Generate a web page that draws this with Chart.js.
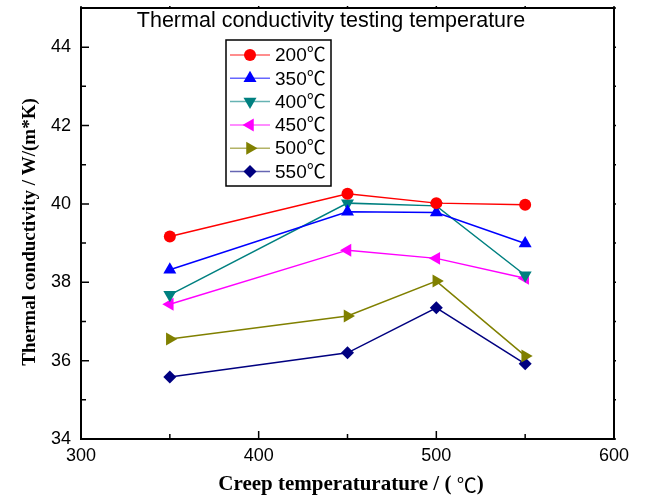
<!DOCTYPE html>
<html>
<head>
<meta charset="utf-8">
<script src="https://cdn.jsdelivr.net/npm/chart.js@4.4.1/dist/chart.umd.min.js"></script>
<style>
  html, body { margin: 0; padding: 0; background: #fff; }
  canvas { display: block; }
</style>
</head>
<body>
<canvas id="myChart" width="649" height="499"></canvas>
<script>
// creep temperature on the x axis
const creepTemps = [350, 450, 500, 550];
// one series per testing temperature
const seriesNames = ['200℃', '350℃', '400℃', '450℃', '500℃', '550℃'];
const s200 = [39.17, 40.26, 40.02, 39.98];
const s350 = [38.32, 39.80, 39.78, 38.99];
const s400 = [37.68, 40.02, 39.95, 38.18];
const s450 = [37.44, 38.82, 38.61, 38.10];
const s500 = [36.55, 37.14, 38.03, 36.12];
const s550 = [35.58, 36.20, 37.35, 35.92];
const xTicks = [300, 400, 500, 600];
const yTicks = [34, 36, 38, 40, 42, 44];

const sansFont = '"Liberation Sans", Arial, "Noto Sans CJK SC", sans-serif';
const serifFont = '"Liberation Serif", "Times New Roman", "Noto Sans CJK SC", serif';

const styles = [
    { color: '#ff0000', pointStyle: 'circle', rotation: 0, radius: 6 },
    { color: '#0000ff', pointStyle: 'triangle', rotation: 0, radius: 7.5 },
    { color: '#008080', pointStyle: 'triangle', rotation: 180, radius: 7.5 },
    { color: '#ff00ff', pointStyle: 'triangle', rotation: 270, radius: 7.5 },
    { color: '#808000', pointStyle: 'triangle', rotation: 90, radius: 7.5 },
    { color: '#000080', pointStyle: 'rectRot', rotation: 0, radius: 6.5 }
];

function toPoints(values) {
    return creepTemps.map((x, i) => ({ x: x, y: values[i] }));
}

const allSeries = [s200, s350, s400, s450, s500, s550];
const datasets = allSeries.map((vals, i) => ({
    label: seriesNames[i],
    data: toPoints(vals),
    showLine: true,
    borderColor: styles[i].color,
    backgroundColor: styles[i].color,
    borderWidth: 1.5,
    pointStyle: styles[i].pointStyle,
    rotation: styles[i].rotation,
    pointRadius: styles[i].radius,
    pointBorderWidth: 0,
    pointBackgroundColor: styles[i].color,
    pointBorderColor: styles[i].color
}));

// frame, inward ticks, titles and the boxed legend
const decorations = {
    id: 'decorations',
    afterDraw(chart) {
        const ctx = chart.ctx;
        const a = chart.chartArea;
        const xs = chart.scales.x;
        const ys = chart.scales.y;
        ctx.save();
        ctx.strokeStyle = '#000';

        // ticks
        ctx.lineWidth = 1.5;
        ctx.beginPath();
        for (let v = 34; v <= 45; v++) {
            const y = ys.getPixelForValue(v);
            const len = v % 2 === 0 ? 8 : 5;
            ctx.moveTo(a.left, y); ctx.lineTo(a.left + len, y);
            ctx.moveTo(a.right, y); ctx.lineTo(a.right + 2, y);
        }
        for (let v = 300; v <= 600; v += 50) {
            const x = xs.getPixelForValue(v);
            const len = v % 100 === 0 ? 8 : 5;
            ctx.moveTo(x, a.bottom); ctx.lineTo(x, a.bottom - len);
            ctx.moveTo(x, a.top); ctx.lineTo(x, a.top - 2);
        }
        ctx.stroke();

        // frame
        ctx.lineWidth = 2;
        ctx.strokeRect(a.left, a.top, a.right - a.left, a.bottom - a.top);

        // chart title inside the plot
        ctx.fillStyle = '#000';
        ctx.font = '21.5px ' + sansFont;
        ctx.textAlign = 'center';
        ctx.textBaseline = 'middle';
        ctx.fillText('Thermal conductivity testing temperature', 331, 21);

        // x axis title: bold serif text with a thin degree sign
        const parts = [
            { t: 'Creep temperaturature / ( ', f: 'bold 21px ' + serifFont },
            { t: '℃', f: '20px "Noto Sans CJK SC", ' + sansFont },
            { t: ')', f: 'bold 21px ' + serifFont }
        ];
        let total = 0;
        parts.forEach(p => { ctx.font = p.f; p.w = ctx.measureText(p.t).width; total += p.w; });
        let px = 351 - total / 2;
        ctx.textAlign = 'left';
        parts.forEach(p => { ctx.font = p.f; ctx.fillText(p.t, px, 485); px += p.w; });

        // y axis title
        ctx.textAlign = 'center';
        ctx.font = 'bold 19px ' + serifFont;
        ctx.save();
        ctx.translate(30, 232);
        ctx.rotate(-Math.PI / 2);
        ctx.fillText('Thermal conductivity / W/(m*K)', 0, 0);
        ctx.restore();

        // legend
        ctx.lineWidth = 1.5;
        ctx.strokeRect(226, 40, 105, 146);
        ctx.font = '19px ' + sansFont;
        ctx.textAlign = 'left';
        chart.data.datasets.forEach((ds, i) => {
            const y = 55 + i * 23.3;
            ctx.strokeStyle = ds.borderColor;
            ctx.globalAlpha = 0.6;
            ctx.beginPath();
            ctx.moveTo(230, y); ctx.lineTo(270, y);
            ctx.stroke();
            ctx.globalAlpha = 1;
            ctx.fillStyle = ds.backgroundColor;
            Chart.helpers.drawPoint(ctx, {
                pointStyle: ds.pointStyle,
                rotation: ds.rotation,
                radius: ds.pointRadius,
                borderWidth: 0
            }, 250, y);
            ctx.fillStyle = '#000';
            ctx.fillText(ds.label, 275, y + 1);
        });
        ctx.restore();
    }
};

const ctx = document.getElementById('myChart').getContext('2d');
const myChart = new Chart(ctx, {
    type: 'scatter',
    data: { datasets: datasets },
    options: {
        responsive: false,
        animation: false,
        devicePixelRatio: 1,
        layout: { padding: { top: 8, right: 35, left: 0, bottom: 0 } },
        plugins: {
            legend: { display: false },
            tooltip: { enabled: false }
        },
        scales: {
            x: {
                type: 'linear',
                min: 300,
                max: 600,
                grid: { display: false, drawTicks: false },
                border: { display: false },
                afterBuildTicks: s => { s.ticks = xTicks.map(v => ({ value: v })); },
                afterFit: s => { s.height = 60; s.paddingLeft = 0; s.paddingRight = 0; },
                ticks: {
                    padding: 6,
                    color: '#000',
                    font: { family: sansFont, size: 18 }
                }
            },
            y: {
                min: 34,
                max: 45,
                grid: { display: false, drawTicks: false },
                border: { display: false },
                afterBuildTicks: s => { s.ticks = yTicks.map(v => ({ value: v })); },
                afterFit: s => { s.width = 81; s.paddingTop = 0; s.paddingBottom = 0; },
                ticks: {
                    padding: 10,
                    color: '#000',
                    font: { family: sansFont, size: 18 }
                }
            }
        }
    },
    plugins: [decorations]
});
</script>
</body>
</html>
